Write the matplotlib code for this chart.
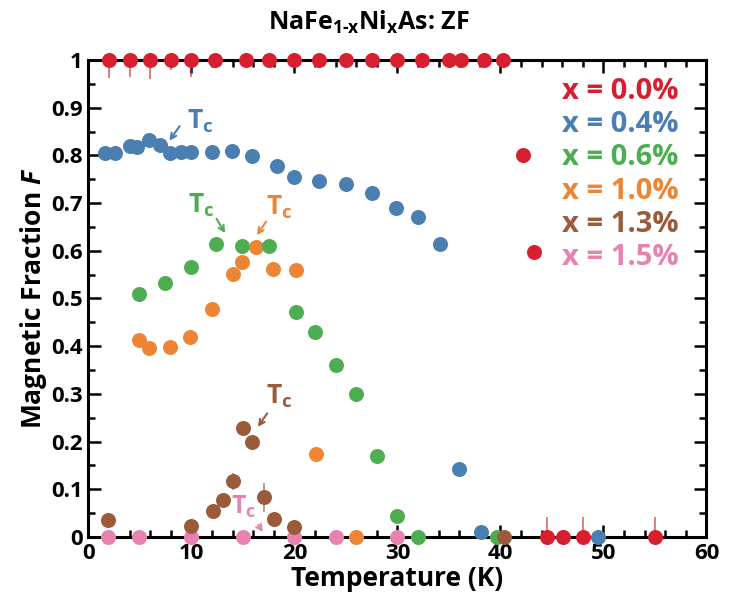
import matplotlib
matplotlib.use("Agg")
import matplotlib.pyplot as plt
from matplotlib.ticker import MultipleLocator, FormatStrFormatter

plt.rcParams['font.family'] = ['Open Sans', 'DejaVu Sans']
plt.rcParams['font.weight'] = 'bold'
plt.rcParams['mathtext.fontset'] = 'custom'
plt.rcParams['mathtext.rm'] = 'Open Sans:bold'
plt.rcParams['mathtext.it'] = 'Open Sans:bold:italic'

# x = 0.0 %
red_T = [2, 4, 6, 8, 10, 12.3, 15.3, 17.5, 20, 22.4, 25, 27.5, 30, 32.4, 35, 36.2, 38.4, 40.2,
         42.2, 43.3, 44.5, 46.1, 48, 55]
red_F = [1, 1, 1, 1, 1, 1, 1, 1, 1, 1, 1, 1, 1, 1, 1, 1, 1, 1,
         0.801, 0.598, 0, 0, 0, 0]
red_err = [0.038, 0.035, 0.04, 0.021, 0.035, 0, 0, 0, 0, 0, 0, 0, 0, 0, 0, 0, 0, 0,
           0, 0, 0.042, 0, 0.042, 0.042]

# x = 0.4 %
blue_T = [1.6, 2.6, 4.0, 4.7, 5.9, 6.9, 7.9, 9.0, 10.0, 12.0, 13.9, 15.9, 18.3, 20.0, 22.4,
          25.0, 27.5, 29.9, 32.0, 34.1, 36.0, 38.1, 49.5]
blue_F = [0.804, 0.806, 0.820, 0.818, 0.832, 0.822, 0.804, 0.808, 0.808, 0.808, 0.809, 0.799,
          0.778, 0.754, 0.747, 0.740, 0.722, 0.689, 0.670, 0.614, 0.142, 0.010, 0.0]

# x = 0.6 %
green_T = [4.9, 7.4, 10.0, 12.4, 14.9, 17.5, 20.1, 22.0, 24.0, 26.0, 28.0, 30.0, 32.0, 39.7]
green_F = [0.509, 0.533, 0.565, 0.614, 0.609, 0.609, 0.471, 0.430, 0.361, 0.300, 0.169, 0.045,
           0.0, 0.0]

# x = 1.0 %
orange_T = [4.9, 5.9, 7.9, 9.9, 12.0, 14.0, 14.9, 16.3, 17.9, 20.1, 22.1, 26.0]
orange_F = [0.413, 0.397, 0.399, 0.420, 0.478, 0.551, 0.577, 0.607, 0.562, 0.560, 0.174, 0.0]

# x = 1.3 %
brown_T = [1.9, 10.0, 12.1, 13.1, 14.0, 15.0, 15.9, 17.0, 18.0, 20.0, 40.3]
brown_F = [0.035, 0.024, 0.054, 0.078, 0.117, 0.229, 0.199, 0.083, 0.038, 0.022, 0.0]
brown_err = [0, 0, 0, 0, 0.018, 0, 0, 0.03, 0, 0, 0]

# x = 1.5 %
pink_T = [1.9, 4.9, 10.0, 15.0, 20.0, 24.0, 30.0]
pink_F = [0, 0, 0, 0, 0, 0, 0]

labels = ['x = 0.0%', 'x = 0.4%', 'x = 0.6%', 'x = 1.0%', 'x = 1.3%', 'x = 1.5%']
colors = ['#d7202f', '#4a7fb2', '#4cae50', '#ed8535', '#9b5b3b', '#e882b0']

fig = plt.figure(figsize=(7.3, 5.98), dpi=100)
ax = fig.add_axes([0.1212, 0.102, 0.8466, 0.7977])

series = [(pink_T, pink_F, None, colors[5]),
          (orange_T, orange_F, None, colors[3]),
          (green_T, green_F, None, colors[2]),
          (blue_T, blue_F, None, colors[1]),
          (brown_T, brown_F, brown_err, colors[4]),
          (red_T, red_F, red_err, colors[0])]

for i, (T, F, err, c) in enumerate(series):
    if err is not None:
        ax.errorbar(T, F, yerr=err, fmt='none', ecolor=c, elinewidth=1.2,
                    alpha=0.7, zorder=3 + i)
    ax.plot(T, F, 'o', color=c, markersize=10.8, markeredgewidth=0,
            clip_on=False, zorder=3 + i)

ax.set_xlim(0, 60)
ax.set_ylim(0, 1)
ax.xaxis.set_major_locator(MultipleLocator(10))
ax.xaxis.set_minor_locator(MultipleLocator(2))
ax.yaxis.set_major_locator(MultipleLocator(0.1))
ax.yaxis.set_minor_locator(MultipleLocator(0.05))
ax.yaxis.set_major_formatter(FormatStrFormatter('%g'))
ax.tick_params(which='both', direction='in', top=True, right=True, width=1.8,
               labelsize=16, pad=4)
ax.tick_params(which='major', length=9)
ax.tick_params(which='minor', length=5)
for s in ax.spines.values():
    s.set_linewidth(2.2)
    s.set_zorder(2)

ax.set_xlabel('Temperature (K)', fontsize=19, fontweight='bold')
ax.xaxis.set_label_coords(0.5, -0.058)
ax.set_ylabel(r'Magnetic Fraction $\mathit{F}$', fontsize=19, fontweight='bold', labelpad=2)
fig.text(0.505, 0.962, r'NaFe$_{\mathrm{1\text{-}x}}$Ni$_{\mathrm{x}}$As: ZF',
         ha='center', va='center', fontsize=18, fontweight='bold')

# series labels on the right
for j, (lab, c) in enumerate(zip(labels, colors)):
    ax.text(46.0, 0.934 - j * 0.0696, lab, color=c, fontsize=21, fontweight='bold',
            ha='left', va='center')

# Tc markers
def tc(tx, ty, a0, a1, c, size=19):
    ax.text(tx, ty, r'T$_{\mathrm{c}}$', color=c, fontsize=size, fontweight='bold',
            ha='left', va='center')
    ax.annotate('', xy=a1, xytext=a0,
                arrowprops=dict(arrowstyle='->', color=c, lw=1.5, mutation_scale=10))

tc(9.6, 0.872, (9.0, 0.866), (7.7, 0.826), colors[1])
tc(9.7, 0.695, (12.3, 0.672), (13.4, 0.632), colors[2])
tc(17.2, 0.691, (17.4, 0.666), (16.2, 0.628), colors[3])
tc(17.2, 0.295, (17.5, 0.264), (16.3, 0.226), colors[4])
tc(13.8, 0.063, (16.3, 0.030), (17.1, 0.006), colors[5], size=18)

fig.savefig('out.png', dpi=100)
